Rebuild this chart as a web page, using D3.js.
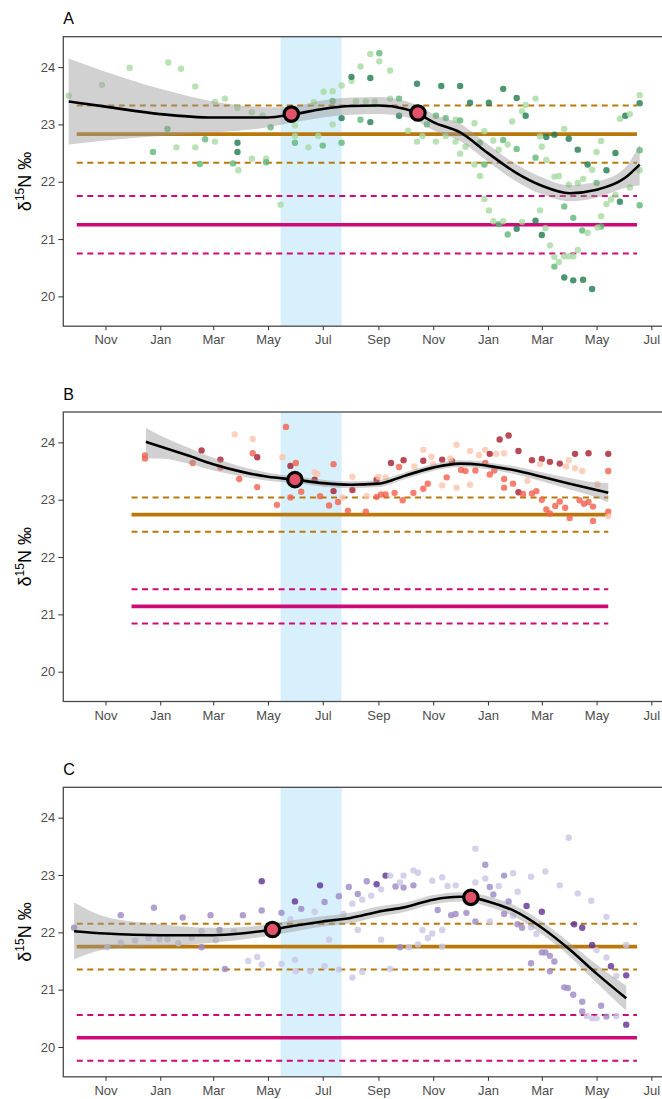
<!DOCTYPE html>
<html>
<head>
<meta charset="utf-8">
<script src="https://cdn.jsdelivr.net/npm/d3@7"></script>
<style>
  body { margin: 0; background: #fff; }
  svg text { font-family: "Liberation Sans", Arial, sans-serif; }
  .tick text { fill: #4d4d4d; font-size: 13px; }
  .tick line { stroke: #333; }
  .domain { display: none; }
</style>
</head>
<body>
<div id="wrapper"></div>
<script>
// ---- data ----
const panelLabels = ['A', 'B', 'C']

// [date, d15N, shade (0 light, 1 mid, 2 dark)]
const pointsA = [
  ['2018-09-21',23.50,0],['2018-10-28',23.69,0],['2018-11-28',23.99,0],['2019-01-10',24.08,0],
  ['2019-01-24',23.97,0],['2019-01-09',22.92,1],['2018-12-24',22.52,1],['2019-01-19',22.60,0],
  ['2019-02-09',23.66,0],['2019-02-09',22.60,0],['2019-02-14',22.31,1],['2019-02-20',22.74,1],
  ['2019-03-03',22.70,0],['2019-03-03',23.39,0],['2019-03-14',23.45,0],['2019-03-28',23.29,0],
  ['2019-03-28',22.68,2],['2019-03-28',22.52,2],['2019-03-23',22.32,1],['2019-03-29',22.20,0],
  ['2019-04-13',23.21,0],['2019-04-13',22.40,0],['2019-04-25',23.15,0],['2019-04-29',22.40,0],
  ['2019-04-29',22.34,1],['2019-05-04',22.95,1],['2019-05-15',21.60,0],['2019-05-31',22.98,0],
  ['2019-05-31',22.80,0],['2019-05-31',22.68,1],['2019-06-15',22.60,0],['2019-06-21',23.39,0],
  ['2019-06-26',22.80,0],['2019-07-01',22.63,1],['2019-07-02',23.57,0],['2019-07-12',23.00,0],
  ['2019-07-12',23.58,0],['2019-07-12',23.41,1],['2019-07-22',22.68,1],['2019-07-22',23.11,2],
  ['2019-07-22',23.68,0],['2019-08-02',23.76,0],['2019-08-02',23.83,2],['2019-08-12',24.01,0],
  ['2019-08-12',23.08,1],['2019-08-07',23.40,0],['2019-08-18',23.40,0],['2019-08-23',24.23,0],
  ['2019-08-23',23.81,2],['2019-08-23',23.04,2],['2019-09-02',24.24,1],['2019-09-02',24.10,0],
  ['2019-08-28',23.40,0],['2019-09-14',23.94,0],['2019-09-14',23.45,0],['2019-09-24',23.45,1],
  ['2019-09-24',23.15,2],['2019-10-04',22.89,0],['2019-10-14',22.70,0],['2019-10-20',22.80,0],
  ['2019-10-14',23.71,2],['2019-10-25',23.00,1],['2019-11-04',23.15,1],['2019-11-04',22.70,0],
  ['2019-11-10',23.67,2],['2019-11-15',23.11,1],['2019-11-15',22.80,0],['2019-11-26',23.08,0],
  ['2019-11-26',22.70,0],['2019-12-01',23.67,2],['2019-12-01',23.07,1],['2019-12-01',22.49,0],
  ['2019-12-12',23.38,2],['2019-12-07',22.61,0],['2019-12-17',23.02,0],['2019-12-23',22.68,1],
  ['2019-12-17',22.30,0],['2019-12-28',22.88,0],['2019-12-28',22.30,1],['2019-12-23',22.10,0],
  ['2019-12-28',21.70,0],['2020-01-02',21.50,0],['2020-01-02',23.38,2],['2020-01-07',22.72,0],
  ['2020-01-07',21.31,0],['2020-01-13',21.26,1],['2020-01-13',22.56,0],['2020-01-18',23.62,2],
  ['2020-01-18',22.73,1],['2020-01-18',21.31,0],['2020-01-23',21.08,1],['2020-01-23',22.65,0],
  ['2020-01-28',23.05,0],['2020-02-02',23.46,2],['2020-02-02',22.57,1],['2020-02-02',21.18,2],
  ['2020-02-08',23.23,0],['2020-02-12',23.15,2],['2020-02-12',23.34,0],['2020-02-08',21.30,0],
  ['2020-02-23',23.45,0],['2020-02-23',22.42,1],['2020-02-23',21.32,2],['2020-02-28',21.50,0],
  ['2020-02-28',22.79,0],['2020-03-01',22.61,0],['2020-03-01',21.07,2],['2020-03-05',21.19,0],
  ['2020-03-06',22.38,0],['2020-03-06',22.78,2],['2020-03-10',20.89,0],['2020-03-15',22.82,2],
  ['2020-03-15',22.09,0],['2020-03-15',20.52,1],['2020-03-15',20.69,0],['2020-03-20',20.60,0],
  ['2020-03-26',22.92,0],['2020-03-26',21.57,1],['2020-03-26',20.33,2],['2020-03-26',20.70,0],
  ['2020-03-31',22.75,2],['2020-03-31',20.70,0],['2020-04-05',21.37,1],['2020-04-05',20.70,0],
  ['2020-04-05',20.28,2],['2020-04-10',22.56,2],['2020-04-10',20.81,0],['2020-04-15',21.15,1],
  ['2020-04-16',20.29,2],['2020-04-21',21.11,0],['2020-04-21',22.30,2],['2020-04-26',20.13,2],
  ['2020-04-26',22.21,0],['2020-05-01',21.98,1],['2020-05-01',22.52,0],['2020-05-06',22.71,0],
  ['2020-05-06',21.40,0],['2020-05-06',21.22,1],['2020-05-02',21.20,0],['2020-05-12',22.20,2],
  ['2020-05-12',21.61,0],['2020-05-17',21.69,0],['2020-05-22',22.50,2],['2020-05-22',21.77,0],
  ['2020-05-27',21.65,2],['2020-05-27',23.10,0],['2020-06-02',23.15,2],['2020-06-07',23.18,0],
  ['2020-06-07',21.90,0],['2020-06-18',23.51,0],['2020-06-18',23.37,2],['2020-06-18',22.55,1],
  ['2020-06-18',22.20,0],['2020-06-18',21.59,1],['2020-03-20',22.10,0],['2020-03-31',21.95,0],
  ['2020-04-10',21.98,0],['2020-04-16',22.05,0]
]

const pointsB = [
  ['2018-12-15',23.77,1],['2018-12-15',23.72,1],['2019-02-06',23.64,1],['2019-02-16',23.86,2],
  ['2019-03-09',23.70,2],['2019-03-09',23.56,1],['2019-03-25',24.14,0],['2019-03-30',23.36,1],
  ['2019-04-14',24.06,0],['2019-04-14',23.81,1],['2019-04-19',23.74,2],['2019-04-19',23.22,1],
  ['2019-05-11',22.91,1],['2019-05-17',23.74,0],['2019-05-21',24.27,1],['2019-05-26',23.59,2],
  ['2019-05-26',23.04,1],['2019-06-01',23.64,1],['2019-06-07',23.14,1],['2019-06-22',23.48,0],
  ['2019-06-22',23.35,2],['2019-06-28',23.06,1],['2019-07-03',23.28,0],['2019-07-08',22.90,1],
  ['2019-07-13',23.15,2],['2019-07-13',23.62,1],['2019-07-18',22.96,1],['2019-07-23',23.04,0],
  ['2019-07-29',22.81,1],['2019-08-03',23.17,2],['2019-08-03',23.40,0],['2019-08-18',22.79,1],
  ['2019-08-19',23.06,0],['2019-08-30',23.35,2],['2019-08-30',23.05,1],['2019-09-04',23.09,1],
  ['2019-09-09',23.39,0],['2019-09-09',23.09,1],['2019-09-15',23.64,2],['2019-09-19',23.12,1],
  ['2019-09-24',23.57,1],['2019-09-28',22.99,1],['2019-09-29',23.69,2],['2019-10-10',23.12,1],
  ['2019-10-11',23.58,0],['2019-10-21',23.19,1],['2019-10-21',23.68,2],['2019-10-21',23.87,0],
  ['2019-10-26',23.28,1],['2019-11-01',23.62,0],['2019-11-11',23.70,2],['2019-11-11',23.25,0],
  ['2019-11-16',23.39,1],['2019-11-22',23.67,2],['2019-11-27',23.96,0],['2019-11-27',23.21,0],
  ['2019-12-02',23.52,1],['2019-12-07',23.50,1],['2019-12-12',23.85,0],['2019-12-12',23.26,0],
  ['2019-12-18',23.51,1],['2019-12-29',23.64,1],['2019-12-29',23.87,0],['2020-01-03',23.80,2],
  ['2020-01-03',23.44,1],['2020-01-08',23.51,1],['2020-01-14',24.05,2],['2020-01-19',23.21,1],
  ['2020-01-19',23.36,1],['2020-01-19',23.81,0],['2020-01-24',24.12,2],['2020-01-29',23.28,1],
  ['2020-02-04',23.13,2],['2020-02-04',23.85,2],['2020-02-09',23.10,1],['2020-02-14',23.33,0],
  ['2020-02-19',23.69,2],['2020-02-19',23.11,1],['2020-02-24',23.15,1],['2020-03-01',23.00,1],
  ['2020-03-01',23.71,2],['2020-03-06',22.83,1],['2020-03-10',22.76,1],['2020-03-10',23.66,2],
  ['2020-03-16',22.89,1],['2020-03-21',23.63,2],['2020-03-21',22.97,1],['2020-03-27',22.86,1],
  ['2020-03-31',23.69,0],['2020-04-01',22.68,1],['2020-04-07',23.80,2],['2020-04-07',23.55,0],
  ['2020-04-12',22.99,1],['2020-04-17',22.93,1],['2020-04-22',23.81,2],['2020-04-22',22.96,1],
  ['2020-04-27',22.88,1],['2020-04-27',22.63,1],['2020-05-02',23.27,0],['2020-05-14',23.80,2],
  ['2020-05-14',23.50,1],['2020-05-14',22.79,1],['2020-05-14',22.71,0],['2019-10-30',23.75,0],
  ['2019-11-20',23.72,0],['2019-12-22',23.78,0],['2020-01-10',23.80,0],['2020-02-28',23.62,0],
  ['2020-03-28',23.58,0],['2020-04-15',23.50,0],['2019-06-25',23.45,0],['2019-09-01',23.40,0]
]

const pointsC = [
  ['2018-09-27',22.08,1],['2018-11-03',21.74,0],['2018-11-18',22.30,1],['2018-11-18',21.82,0],
  ['2018-12-04',21.86,0],['2018-12-19',21.90,0],['2018-12-25',22.43,1],['2018-12-31',21.88,0],
  ['2019-01-09',21.88,0],['2019-01-21',21.81,0],['2019-01-26',22.26,1],['2019-02-05',21.91,0],
  ['2019-02-16',21.74,1],['2019-02-16',22.02,0],['2019-02-26',22.30,1],['2019-03-04',21.86,0],
  ['2019-03-08',22.04,1],['2019-03-14',21.36,1],['2019-03-24',22.01,0],['2019-04-03',22.30,1],
  ['2019-04-09',21.50,0],['2019-04-19',21.57,0],['2019-04-24',22.89,2],['2019-04-24',22.38,1],
  ['2019-04-24',21.44,0],['2019-05-16',22.34,1],['2019-05-16',21.45,0],['2019-05-26',22.23,0],
  ['2019-05-31',22.54,2],['2019-05-31',21.52,0],['2019-06-01',21.32,0],['2019-06-07',22.41,1],
  ['2019-06-17',21.32,0],['2019-06-22',22.36,0],['2019-06-28',22.82,2],['2019-07-03',22.53,1],
  ['2019-07-03',21.41,0],['2019-07-08',21.87,0],['2019-07-19',22.63,1],['2019-07-19',21.35,0],
  ['2019-07-24',22.32,0],['2019-07-30',22.79,1],['2019-08-03',21.21,0],['2019-08-03',22.50,0],
  ['2019-08-09',22.67,1],['2019-08-09',22.04,0],['2019-08-14',22.57,0],['2019-08-14',21.31,0],
  ['2019-08-19',22.89,1],['2019-08-24',22.64,0],['2019-08-30',22.84,2],['2019-09-04',21.87,0],
  ['2019-09-04',22.75,0],['2019-09-09',22.99,2],['2019-09-14',22.99,0],['2019-09-14',21.36,0],
  ['2019-09-20',22.80,1],['2019-09-25',21.74,1],['2019-09-25',22.87,0],['2019-09-29',22.78,1],
  ['2019-09-29',22.99,0],['2019-10-05',21.74,0],['2019-10-10',23.08,0],['2019-10-10',22.82,1],
  ['2019-10-15',23.04,0],['2019-10-15',21.79,0],['2019-10-20',22.04,0],['2019-10-26',21.90,0],
  ['2019-10-31',21.98,0],['2019-10-31',22.90,0],['2019-11-06',22.39,1],['2019-11-11',22.04,0],
  ['2019-11-11',22.96,0],['2019-11-11',21.75,0],['2019-11-17',22.81,0],['2019-11-21',22.30,1],
  ['2019-11-26',22.32,1],['2019-11-26',22.82,0],['2019-12-08',22.34,1],['2019-12-08',22.53,0],
  ['2019-12-18',23.46,0],['2019-12-18',22.87,0],['2019-12-18',22.19,1],['2019-12-29',23.18,1],
  ['2019-12-29',22.94,0],['2020-01-03',22.19,0],['2020-01-03',22.79,1],['2020-01-07',22.66,1],
  ['2020-01-13',22.81,0],['2020-01-19',22.99,1],['2020-01-19',22.32,1],['2020-01-24',22.54,1],
  ['2020-01-29',23.03,0],['2020-01-29',22.29,0],['2020-02-03',22.71,0],['2020-02-03',22.14,1],
  ['2020-02-08',22.08,1],['2020-02-13',22.46,2],['2020-02-18',22.97,0],['2020-02-18',22.09,0],
  ['2020-02-18',21.46,1],['2020-02-24',21.97,0],['2020-03-01',22.36,2],['2020-03-01',21.65,1],
  ['2020-03-05',23.06,0],['2020-03-05',21.65,1],['2020-03-10',21.59,1],['2020-03-10',21.32,1],
  ['2020-03-15',21.49,1],['2020-03-21',22.82,0],['2020-03-26',21.04,1],['2020-03-30',21.03,1],
  ['2020-03-31',23.65,0],['2020-04-05',20.91,1],['2020-04-06',22.14,2],['2020-04-10',22.68,0],
  ['2020-04-15',22.08,2],['2020-04-15',20.79,1],['2020-04-15',20.62,1],['2020-04-20',20.54,0],
  ['2020-04-25',22.55,0],['2020-04-26',21.78,2],['2020-04-26',20.50,0],['2020-05-01',21.69,0],
  ['2020-05-01',20.50,0],['2020-05-06',20.72,1],['2020-05-12',22.27,0],['2020-05-12',21.56,0],
  ['2020-05-12',20.53,1],['2020-05-17',21.41,2],['2020-05-23',21.24,0],['2020-05-23',20.54,0],
  ['2020-06-03',21.78,0],['2020-06-03',21.25,2],['2020-06-03',20.39,2]
]

// smoother: [date, fit, lower, upper]
const smoothA = [
  ['2018-09-21',23.40,22.65,24.15],['2018-11-01',23.31,22.72,23.92],['2019-01-01',23.18,22.80,23.62],
  ['2019-03-01',23.12,22.86,23.40],['2019-05-01',23.12,22.95,23.30],['2019-05-27',23.17,23.03,23.31],
  ['2019-07-01',23.27,23.12,23.42],['2019-08-01',23.32,23.17,23.47],['2019-09-01',23.33,23.18,23.48],
  ['2019-10-01',23.27,23.13,23.41],['2019-10-15',23.19,23.05,23.33],['2019-11-01',23.04,22.90,23.18],
  ['2019-12-01',22.86,22.71,23.01],['2020-01-01',22.50,22.35,22.65],['2020-02-01',22.16,22.01,22.31],
  ['2020-03-01',21.93,21.78,22.08],['2020-04-01',21.80,21.66,21.94],['2020-05-01',21.86,21.72,22.00],
  ['2020-06-01',22.06,21.89,22.23],['2020-06-18',22.30,21.94,22.65]
]
const smoothB = [
  ['2018-12-16',24.01,23.72,24.25],['2019-01-01',23.93,23.72,24.12],['2019-02-01',23.77,23.63,23.91],
  ['2019-03-01',23.62,23.51,23.73],['2019-04-01',23.49,23.41,23.58],['2019-05-01',23.40,23.33,23.47],
  ['2019-05-31',23.35,23.29,23.41],['2019-07-01',23.29,23.23,23.35],['2019-08-01',23.26,23.20,23.32],
  ['2019-09-01',23.28,23.22,23.34],['2019-09-16',23.34,23.28,23.40],['2019-10-01',23.42,23.36,23.48],
  ['2019-11-01',23.56,23.50,23.62],['2019-12-01',23.63,23.57,23.69],['2019-12-24',23.61,23.55,23.67],
  ['2020-01-01',23.59,23.53,23.65],['2020-02-01',23.51,23.44,23.58],['2020-03-01',23.40,23.32,23.48],
  ['2020-04-01',23.28,23.18,23.38],['2020-05-01',23.17,23.04,23.30],['2020-05-14',23.12,22.95,23.29]
]
const smoothC = [
  ['2018-09-27',22.02,21.53,22.52],['2018-11-01',21.98,21.70,22.27],['2019-01-01',21.95,21.76,22.14],
  ['2019-03-01',21.95,21.82,22.08],['2019-04-01',21.98,21.87,22.09],['2019-05-06',22.05,21.95,22.15],
  ['2019-06-01',22.12,22.02,22.22],['2019-07-01',22.19,22.10,22.28],['2019-08-01',22.25,22.16,22.34],
  ['2019-09-01',22.36,22.27,22.45],['2019-10-01',22.44,22.36,22.52],['2019-11-01',22.57,22.49,22.65],
  ['2019-12-01',22.62,22.54,22.70],['2019-12-12',22.61,22.53,22.69],['2020-01-01',22.54,22.45,22.63],
  ['2020-02-01',22.36,22.26,22.46],['2020-03-01',22.08,21.97,22.19],['2020-04-01',21.70,21.58,21.82],
  ['2020-05-01',21.28,21.12,21.44],['2020-06-03',20.85,20.63,21.07]
]

// highlighted points on the smoother
const markersA = [['2019-05-27',23.18],['2019-10-15',23.20]]
const markersB = [['2019-05-31',23.35]]
const markersC = [['2019-05-06',22.05],['2019-12-13',22.61]]

// reference levels (solid) and their spread (dashed)
const goldLevels = [22.83, 22.74, 21.75]
const goldSpread = [0.5, 0.3, 0.4]
const pinkLevels = [21.25, 21.14, 20.16]
const pinkSpread = [0.5, 0.3, 0.4]
const refRanges = [['2018-09-30','2020-06-15'],['2018-11-30','2020-05-14'],['2018-09-30','2020-06-15']]

const shadedPeriod = ['2019-05-15','2019-07-22']
const xDomain = ['2018-09-15','2020-07-24']
const yDomain = [19.48, 24.53]
const yTicks = [20, 21, 22, 23, 24]

const palettes = [
  ['#a6dba0','#5db876','#1f7a50'],
  ['#fdc4ae','#f45f4b','#a61c2a'],
  ['#c9c6e4','#9c88c6','#5f2e91'],
]

// ---- layout ----
const parse = d3.utcParse('%Y-%m-%d')
const dims = {
  width: 662,
  height: 1099,
  left: 63.3,
  right: 672,
  panelTop: 36.7,
  panelHeight: 289.5,
  panelStep: 375.3,
}

const svg = d3.select('#wrapper').append('svg')
  .attr('width', dims.width)
  .attr('height', dims.height)

const xScale = d3.scaleUtc()
  .domain(xDomain.map(parse))
  .range([dims.left, dims.right])

const panels = [
  { points: pointsA, smooth: smoothA, markers: markersA },
  { points: pointsB, smooth: smoothB, markers: markersB },
  { points: pointsC, smooth: smoothC, markers: markersC },
]

panels.forEach((p, i) => {
  const top = dims.panelTop + i * dims.panelStep
  const bottom = top + dims.panelHeight
  const yScale = d3.scaleLinear().domain(yDomain).range([bottom, top])
  const colors = palettes[i]
  const g = svg.append('g')

  // clip so nothing leaves the panel
  const clipId = 'clip' + i
  svg.append('clipPath').attr('id', clipId)
    .append('rect')
    .attr('x', dims.left).attr('y', top)
    .attr('width', dims.right - dims.left).attr('height', dims.panelHeight)
  const body = g.append('g').attr('clip-path', `url(#${clipId})`)

  // shaded period
  body.append('rect')
    .attr('x', xScale(parse(shadedPeriod[0])))
    .attr('width', xScale(parse(shadedPeriod[1])) - xScale(parse(shadedPeriod[0])))
    .attr('y', top).attr('height', dims.panelHeight)
    .attr('fill', '#d8f0fc')

  // reference lines
  const [r0, r1] = refRanges[i].map(parse)
  const refs = [
    [goldLevels[i], goldSpread[i], '#b9780c'],
    [pinkLevels[i], pinkSpread[i], '#cd0a78'],
  ]
  refs.forEach(([level, spread, col]) => {
    ;[level - spread, level + spread].forEach((v) => {
      body.append('line')
        .attr('x1', xScale(r0)).attr('x2', xScale(r1))
        .attr('y1', yScale(v)).attr('y2', yScale(v))
        .attr('stroke', col).attr('stroke-width', 2)
        .attr('stroke-dasharray', '6,4.5')
    })
    body.append('line')
      .attr('x1', xScale(r0)).attr('x2', xScale(r1))
      .attr('y1', yScale(level)).attr('y2', yScale(level))
      .attr('stroke', col).attr('stroke-width', 3.6)
  })

  // points
  body.append('g').selectAll('circle')
    .data(p.points)
    .join('circle')
    .attr('cx', (d) => xScale(parse(d[0])))
    .attr('cy', (d) => yScale(d[1]))
    .attr('r', 3.2)
    .attr('fill', (d) => colors[d[2]])
    .attr('fill-opacity', 0.8)

  // smoother ribbon + line
  const area = d3.area()
    .x((d) => xScale(parse(d[0])))
    .y0((d) => yScale(d[2]))
    .y1((d) => yScale(d[3]))
    .curve(d3.curveMonotoneX)
  body.append('path')
    .datum(p.smooth)
    .attr('d', area)
    .attr('fill', '#9a9a9a')
    .attr('fill-opacity', 0.45)

  const line = d3.line()
    .x((d) => xScale(parse(d[0])))
    .y((d) => yScale(d[1]))
    .curve(d3.curveMonotoneX)
  body.append('path')
    .datum(p.smooth)
    .attr('d', line)
    .attr('fill', 'none')
    .attr('stroke', '#000')
    .attr('stroke-width', 2.6)

  // markers
  body.append('g').selectAll('circle')
    .data(p.markers)
    .join('circle')
    .attr('cx', (d) => xScale(parse(d[0])))
    .attr('cy', (d) => yScale(d[1]))
    .attr('r', 7.2)
    .attr('fill', '#e35268')
    .attr('stroke', '#000')
    .attr('stroke-width', 3.2)

  // panel border
  g.append('rect')
    .attr('x', dims.left).attr('y', top)
    .attr('width', dims.right - dims.left).attr('height', dims.panelHeight)
    .attr('fill', 'none')
    .attr('stroke', '#4a4a4a')
    .attr('stroke-width', 1.3)

  // axes
  g.append('g')
    .attr('transform', `translate(${dims.left},0)`)
    .call(d3.axisLeft(yScale).tickValues(yTicks).tickFormat(d3.format('d')).tickSize(5).tickPadding(3))
  g.append('g')
    .attr('transform', `translate(0,${bottom})`)
    .call(d3.axisBottom(xScale)
      .ticks(d3.utcMonth.every(2))
      .tickFormat(d3.utcFormat('%b'))
      .tickSize(4)
      .tickPadding(5))

  // y-axis title
  const yt = g.append('text')
    .attr('transform', `translate(31,${(top + bottom) / 2}) rotate(-90)`)
    .attr('text-anchor', 'middle')
    .attr('font-size', 18)
    .attr('fill', '#000')
  yt.append('tspan').text('δ')
  yt.append('tspan').attr('font-size', 12).attr('dy', -7).text('15')
  yt.append('tspan').attr('dy', 7).text('N ‰')

  // panel tag
  g.append('text')
    .attr('x', dims.left)
    .attr('y', top - 12.5)
    .attr('font-size', 16)
    .attr('fill', '#000')
    .text(panelLabels[i])
})
</script>
</body>
</html>
